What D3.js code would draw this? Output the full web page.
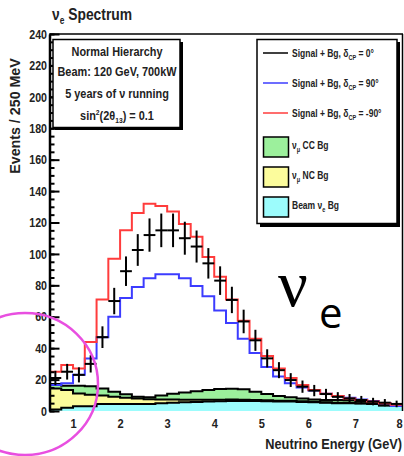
<!DOCTYPE html>
<html><head><meta charset="utf-8">
<script src="https://cdn.jsdelivr.net/npm/d3@7"></script>
<style>
html,body{margin:0;padding:0;background:#fff;}
svg{display:block;}
.nar{font-family:"Liberation Sans","Arial",sans-serif;font-weight:bold;fill:#222;}
</style></head>
<body><svg id="c" width="404" height="456"></svg>
<script>
// ---- data (30 bins of 250 MeV from 0.5 to 8 GeV) ----
const binEdges = d3.range(30).map(i => 0.5 + i * 0.25);
const redMinus90 = [25,29.3,27,44,71,97,115,126,132,130.5,127,119,111,98,85.5,71,57.5,46,35,27,21,16.5,13.4,11,9.5,8,7,6,5,4];
const blue90 = [16.5,17.6,23,33.5,47,60,72,79,84.5,87,87,84.5,79.6,73,64,56,46,37,28,22,17.6,15,13,11,9.5,8.5,7.4,6.4,5,3.2];
const black0 = [21,25,23,30,47,70,89,102.5,112,115,115,110,104.7,94,83,70.7,57,45,33.5,26,19.7,15.5,13,10.8,9,8,7,6,5.3,4.5];
const black0Err = [4.6,5,4.8,5.5,6.9,8.4,9.4,10.1,10.6,10.7,10.7,10.5,10.2,9.7,9.1,8.4,7.5,6.7,5.8,5.1,4.4,3.9,3.6,3.3,3,2.8,2.6,2.4,2.3,2.1];
const beamNueBg = [1,2,3,3,4.5,4.5,4.5,4.5,4.5,5,5.3,5.5,5.8,6,6.2,6.4,6.4,6.3,6.2,6,6,5.8,5.5,5.3,5,5,4.8,4.5,3.5,3.2];
const numuNCBg = [13.4,11.4,8.2,7.4,5.3,4.5,4,3.5,3,2.4,2,1.6,1.3,1.1,1,0.9,0.8,0.7,0.6,0.5,0.5,0.4,0.4,0.3,0.3,0.3,0.2,0.2,0.2,0.2];
const numuCCBg = [2.8,2.6,4.8,5.4,4.6,3.3,2.1,1.1,1.3,2.5,3.7,4.7,5.5,6.2,6.8,6.8,6.7,5.3,4,3,2.2,1.8,1.5,1.4,1.7,1.5,1.2,1.2,0.5,0.5];
const yTicks = [0,20,40,60,80,100,120,140,160,180,200,220,240];
const xTicks = [1,2,3,4,5,6,7,8];
const binWidth = 0.25;

const svg = d3.select("#c");
const x = d3.scaleLinear().domain([0.5, 8]).range([49.5, 402.5]);
const y = d3.scaleLinear().domain([0, 240]).range([411, 34]);

// narrow text helper
function nt(parent, tx, ty, size, sx, anchor){
  return parent.append("text").attr("class","nar")
    .attr("transform", `translate(${tx},${ty}) scale(${sx},1)`)
    .attr("font-size", size).attr("text-anchor", anchor || "start");
}

// stacked backgrounds
const rows = binEdges.map((e,i)=>({e, beam:beamNueBg[i], nc:numuNCBg[i], cc:numuCCBg[i]}));
rows.push({e:8, beam:beamNueBg[29], nc:numuNCBg[29], cc:numuCCBg[29]});
const stack = d3.stack().keys(["beam","nc","cc"])(rows);
const fills = {beam:"#9cfcfc", nc:"#fcfc9c", cc:"#9cf09c"};
const area = d3.area().curve(d3.curveStepAfter).x(d=>x(d.data.e)).y0(d=>y(d[0])).y1(d=>y(d[1]));
const topLine = d3.line().curve(d3.curveStepAfter).x(d=>x(d.data.e)).y(d=>y(d[1]));
stack.forEach(s=>{
  svg.append("path").attr("d", area(s)).attr("fill", fills[s.key]);
});
stack.forEach(s=>{
  svg.append("path").attr("d", topLine(s)).attr("fill","none").attr("stroke","#000").attr("stroke-width",2);
});

// histograms
function histPts(vals){ const p = vals.map((v,i)=>[binEdges[i], v]); p.push([8, vals[vals.length-1]]); return p; }
const hline = d3.line().curve(d3.curveStepAfter).x(d=>x(d[0])).y(d=>y(d[1]));
svg.append("path").attr("d", hline(histPts(blue90))).attr("fill","none").attr("stroke","#3c3cff").attr("stroke-width",2);
svg.append("path").attr("d", hline(histPts(redMinus90))).attr("fill","none").attr("stroke","#ff3c3c").attr("stroke-width",2);

// data points with error bars
const pts = svg.append("g").attr("stroke","#000").attr("stroke-width",2);
black0.forEach((v,i)=>{
  const c = binEdges[i] + binWidth/2;
  pts.append("line").attr("x1", x(binEdges[i])).attr("x2", x(binEdges[i]+binWidth)).attr("y1", y(v)).attr("y2", y(v));
  pts.append("line").attr("x1", x(c)).attr("x2", x(c)).attr("y1", y(v - black0Err[i])).attr("y2", y(v + black0Err[i]));
});

// frame
svg.append("line").attr("x1",49.5).attr("x2",403).attr("y1",34).attr("y2",34).attr("stroke","#000").attr("stroke-width",1.5);
svg.append("line").attr("x1",402.5).attr("x2",402.5).attr("y1",34).attr("y2",411).attr("stroke","#000").attr("stroke-width",1.5);

// y axis
const yMinor = svg.append("g").attr("transform","translate(49.5,0)")
  .call(d3.axisLeft(y).tickValues(d3.range(0,241,5)).tickSize(-5).tickFormat(""));
yMinor.selectAll("line").attr("stroke-width",2);
yMinor.select(".domain").remove();
const yAx = svg.append("g").attr("transform","translate(49.5,0)")
  .call(d3.axisLeft(y).tickValues(yTicks).tickSize(-10).tickSizeOuter(0).tickPadding(3));
yAx.selectAll("line").attr("stroke-width",2);
yAx.select(".domain").attr("stroke-width",2.5);
yAx.selectAll("text").attr("class","nar").attr("font-size",13).attr("fill","#222")
  .attr("transform","scale(0.82,1)");

// x axis
const xAx = svg.append("g").attr("transform","translate(0,411)")
  .call(d3.axisBottom(x).tickValues(xTicks).tickSize(0).tickPadding(7).tickFormat(d3.format("d")));
xAx.select(".domain").remove();
xAx.selectAll("text").attr("class","nar").attr("font-size",13.5).attr("fill","#222")
  .attr("transform","scale(0.82,1)");
xAx.selectAll(".tick").filter(d=>d===8).attr("transform",`translate(${x(8)-3},0)`);

// titles
const t = nt(svg, 52, 20, 16.5, 0.84);
t.append("tspan").text("ν");
t.append("tspan").attr("font-size",10).attr("dy",4).text("e");
t.append("tspan").attr("dy",-4).text(" Spectrum");
svg.append("text").attr("class","nar").attr("font-size",15.5)
  .attr("transform","translate(20,116) rotate(-90) scale(0.92,1)").attr("text-anchor","middle").text("Events / 250 MeV");
nt(svg, 402, 449, 14.5, 0.88, "end").text("Neutrino Energy (GeV)");

// info box
svg.append("rect").attr("x",55).attr("y",42).attr("width",128).attr("height",88).attr("fill","#000");
svg.append("rect").attr("x",53).attr("y",39.5).attr("width",127).attr("height",88).attr("fill","#fff").attr("stroke","#000").attr("stroke-width",1.5);
nt(svg, 117, 56, 13, 0.84, "middle").text("Normal Hierarchy");
nt(svg, 117, 76, 13, 0.84, "middle").text("Beam: 120 GeV, 700kW");
nt(svg, 117, 98, 13, 0.84, "middle").text("5 years of ν running");
const s4 = nt(svg, 117, 120, 13, 0.84, "middle");
s4.append("tspan").text("sin");
s4.append("tspan").attr("font-size",8).attr("dy",-5).text("2");
s4.append("tspan").attr("dy",5).text("(2θ");
s4.append("tspan").attr("font-size",8).attr("dy",3).text("13");
s4.append("tspan").attr("dy",-3).text(") = 0.1");

// legend
svg.append("rect").attr("x",260).attr("y",42).attr("width",140).attr("height",185).attr("fill","#000");
svg.append("rect").attr("x",257).attr("y",39.5).attr("width",140).attr("height",184).attr("fill","#fff").attr("stroke","#000").attr("stroke-width",1.5);
const lineEntries = [["#000","0°",53],["#3c3cff","90°",83],["#ff3c3c","-90°",113]];
lineEntries.forEach(([col,ang,yy])=>{
  svg.append("line").attr("x1",263).attr("x2",288).attr("y1",yy).attr("y2",yy).attr("stroke",col).attr("stroke-width",1.5);
  const tx = nt(svg, 292, yy+4, 11.5, 0.74);
  tx.append("tspan").text("Signal + Bg, δ");
  tx.append("tspan").attr("font-size",7.5).attr("dy",3).text("CP");
  tx.append("tspan").attr("dy",-3).text(" = " + ang);
});
const boxEntries = [[fills.cc,137,["ν","μ"," CC Bg"]],[fills.nc,167,["ν","μ"," NC Bg"]],[fills.beam,197,["Beam ν","e"," Bg"]]];
boxEntries.forEach(([col,yy,parts])=>{
  svg.append("rect").attr("x",263.5).attr("y",yy).attr("width",25).attr("height",20).attr("fill",col).attr("stroke","#000").attr("stroke-width",1.5);
  const tx = nt(svg, 292, yy+12, 11.5, 0.74);
  tx.append("tspan").text(parts[0]);
  tx.append("tspan").attr("font-size",7.5).attr("dy",3).text(parts[1]);
  tx.append("tspan").attr("dy",-3).text(parts[2]);
});

// big annotation
svg.append("text").attr("x",278).attr("y",306).attr("font-family","Liberation Serif, serif").attr("font-size",66).attr("fill","#000").text("ν");
svg.append("text").attr("x",319).attr("y",328).attr("font-family","Open Sans, Liberation Sans, sans-serif").attr("font-size",42).attr("fill","#000").text("e");

// highlight circle
svg.append("ellipse").attr("cx",25).attr("cy",384).attr("rx",73).attr("ry",71).attr("fill","none").attr("stroke","#e84fe0").attr("stroke-width",2.5);
</script></body></html>
